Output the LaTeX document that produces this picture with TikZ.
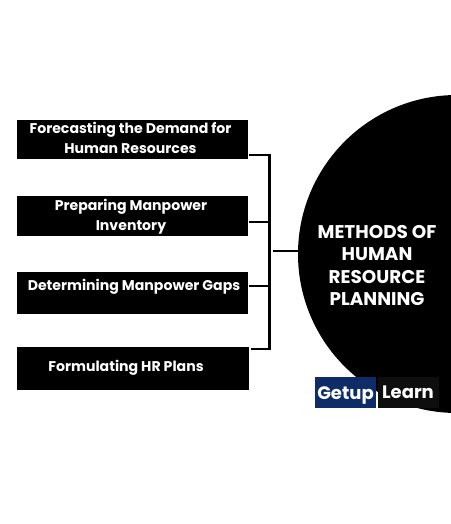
\documentclass[tikz,border=0pt]{standalone}
\usepackage{fontspec}
\setmainfont{Poppins}
\usetikzlibrary{positioning}

\begin{document}
\begin{tikzpicture}[
  x=1pt, y=-1pt,
  blackbox/.style={rectangle, fill=black, anchor=north west, minimum width=231pt, inner sep=0pt, outer sep=0pt},
  boxtext/.style={text=white, align=center, inner sep=0pt, font=\fontsize{14.1}{19.5}\selectfont\bfseries},
  hubtext/.style={text=white, align=center, inner sep=0pt, font=\fontsize{18.4}{22.1}\selectfont\bfseries},
  logobox/.style={rectangle, anchor=north west, minimum width=61pt, minimum height=31pt, inner sep=0pt, outer sep=0pt},
  logotext/.style={text=white, inner sep=0pt, font=\fontsize{18}{20}\selectfont\bfseries},
  link/.style={line width=2.4pt, line cap=rect}
]
\useasboundingbox (0,0) rectangle (450,524);

% big circle on the right
\node[circle, fill=black, minimum size=318pt, inner sep=0pt, outer sep=0pt] (methods) at (457,254) {};
\node[hubtext] (methodstext) at (377,265.5) {METHODS OF\\HUMAN\\RESOURCE\\PLANNING};

% left column
\node[blackbox, minimum height=39pt] (forecast) at (17,120) {};
\node[blackbox, minimum height=40pt] (prepare) at (17,196) {};
\node[blackbox, minimum height=42pt] (gaps) at (17,272) {};
\node[blackbox, minimum height=43pt, minimum width=232pt] (plans) at (17,347) {};

\node[boxtext] (forecasttext) at (130.5,138) {Forecasting the Demand for\\Human Resources};
\node[boxtext] (preparetext) at (131,216.5) {Preparing Manpower\\Inventory};
\node[boxtext] (gapstext) at (134,286.5) {Determining Manpower Gaps};
\node[boxtext] (planstext) at (126,367.5) {Formulating HR Plans};

% bracket
\coordinate (tfore) at (269.5,155);
\coordinate (tprep) at (269.5,222);
\coordinate (tgaps) at (269.5,286);
\coordinate (tplan) at (269.5,349);
\coordinate (thub) at (273,251);

\draw[link] ([xshift=2pt]forecast.east |- tfore) -- (tfore) -- (tplan) -- ([xshift=3pt]plans.east |- tplan);
\draw[link] ([xshift=2pt]prepare.east |- tprep) -- (tprep);
\draw[link] ([xshift=2pt]gaps.east |- tgaps) -- (tgaps);
\draw[line width=2.4pt] (thub) -- (methods.west |- thub);

% logo
\node[logobox, fill={rgb,255:red,13;green,44;blue,104}] (getup) at (315,377) {};
\node[logobox, fill={rgb,255:red,14;green,14;blue,14}] (learn) at (378,377) {};
\node[logotext] (getuptext) at (345.5,395) {Getup};
\node[logotext] (learntext) at (408,392.5) {Learn};
\end{tikzpicture}
\end{document}
